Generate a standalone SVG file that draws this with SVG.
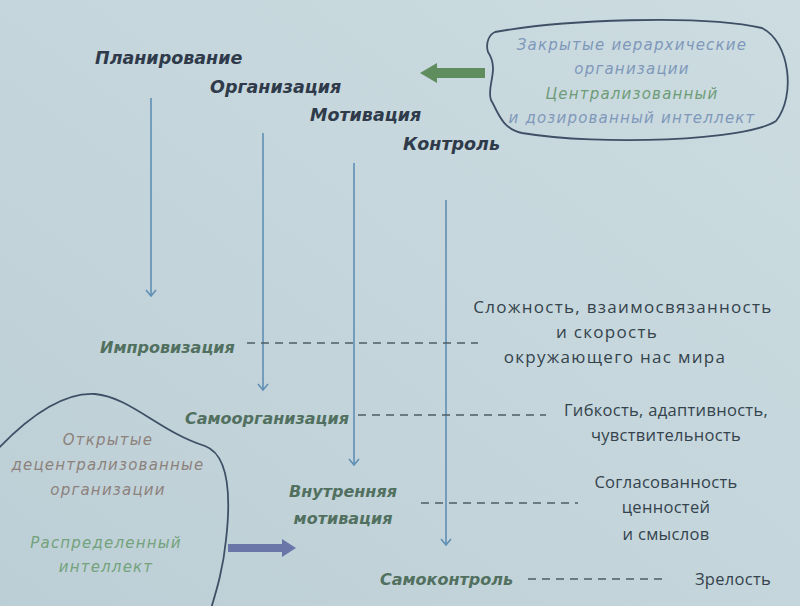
<svg xmlns="http://www.w3.org/2000/svg" width="800" height="606" viewBox="0 0 800 606">
<defs>
<marker id="ah" markerWidth="12" markerHeight="12" refX="10" refY="6" orient="auto" markerUnits="userSpaceOnUse" viewBox="0 0 12 12">
<polyline points="4,1 10,6 4,11" fill="none" stroke="#5f8fb4" stroke-width="1.6"/>
</marker>
<linearGradient id="bg" x1="1" y1="0" x2="0" y2="1">
<stop offset="0" stop-color="#ccdce1"/>
<stop offset="1" stop-color="#bdcfd6"/>
</linearGradient>
</defs>
<style>
.title{font-family:"DejaVu Sans",sans-serif;font-weight:bold;font-style:italic;font-size:17.5px;fill:#2f3a4a}
.lab{font-family:"DejaVu Sans",sans-serif;font-weight:bold;font-style:italic;font-size:16px;fill:#51705f}
.rt{font-family:"Open Sans",sans-serif;font-size:17px;letter-spacing:1.3px;fill:#34434c}
.rt2{font-family:"Open Sans",sans-serif;font-size:16.5px;letter-spacing:0.3px;fill:#34434c}
.ct{font-family:"DejaVu Sans",sans-serif;font-style:italic;font-size:15px;letter-spacing:1.2px}
.vline{stroke:#5f8fb4;stroke-width:1.6;fill:none}
.dash{stroke:#4d5d66;stroke-width:1.4;stroke-dasharray:8,6;fill:none}
.cloud{fill:none;stroke:#3f4f66;stroke-width:1.8}
</style>
<rect width="800" height="606" fill="url(#bg)"/>

<g id="titles">
<text class="title" x="95" y="64">Планирование</text>
<text class="title" x="210" y="93">Организация</text>
<text class="title" x="310" y="121">Мотивация</text>
<text class="title" x="403" y="150">Контроль</text>
</g>

<g id="connectors">
<line class="vline" x1="151" y1="98" x2="151" y2="296" marker-end="url(#ah)"/>
<line class="vline" x1="263" y1="133" x2="263" y2="390" marker-end="url(#ah)"/>
<line class="vline" x1="354" y1="163" x2="354" y2="465" marker-end="url(#ah)"/>
<line class="vline" x1="446" y1="200" x2="446" y2="545" marker-end="url(#ah)"/>
<line class="dash" x1="247" y1="343" x2="478" y2="343"/>
<line class="dash" x1="358" y1="415" x2="546" y2="415"/>
<line class="dash" x1="421" y1="503" x2="578" y2="503"/>
<line class="dash" x1="528" y1="579" x2="666" y2="579"/>
<polygon points="485,68 437,68 437,63 420,73 437,83 437,78 485,78" fill="#5f8d5e"/>
<polygon points="228,544 282,544 282,539 296,548 282,557 282,552 228,552" fill="#6a76a8"/>
</g>

<g id="closed-org">
<path class="cloud" d="M 495,32 C 560,20 700,14 762,28 C 790,42 796,96 776,121 C 746,141 600,146 522,133 C 502,129 498,112 491,100 C 486,86 500,70 488,52 C 485,42 490,34 495,32 Z"/>
<text class="ct" x="632" y="50" text-anchor="middle" fill="#7f98ba">Закрытые иерархические</text>
<text class="ct" x="632" y="74" text-anchor="middle" fill="#7f98ba">организации</text>
<text class="ct" x="632" y="99" text-anchor="middle" fill="#6f9c78">Централизованный</text>
<text class="ct" x="632" y="123" text-anchor="middle" fill="#7f98ba">и дозированный интеллект</text>
</g>

<g id="open-org">
<path class="cloud" d="M -5,452 C 25,420 60,392 95,394 C 130,397 160,432 205,446 C 232,456 230,505 226,540 C 223,570 216,592 210,612"/>
<text class="ct" x="108" y="445" text-anchor="middle" fill="#8d817c">Открытые</text>
<text class="ct" x="108" y="470" text-anchor="middle" fill="#8d817c">децентрализованные</text>
<text class="ct" x="108" y="495" text-anchor="middle" fill="#8d817c">организации</text>
<text class="ct" x="106" y="548" text-anchor="middle" fill="#73a27c">Распределенный</text>
<text class="ct" x="106" y="572" text-anchor="middle" fill="#73a27c">интеллект</text>
</g>

<g id="labels">
<text class="lab" x="100" y="353">Импровизация</text>
<text class="lab" x="185" y="424">Самоорганизация</text>
<text class="lab" x="343" y="497" text-anchor="middle">Внутренняя</text>
<text class="lab" x="343" y="524" text-anchor="middle">мотивация</text>
<text class="lab" x="380" y="585">Самоконтроль</text>
</g>

<g id="right-texts">
<text class="rt" x="623" y="313" text-anchor="middle">Сложность, взаимосвязанность</text>
<text class="rt" x="607" y="338" text-anchor="middle">и скорость</text>
<text class="rt" x="615" y="363" text-anchor="middle">окружающего нас мира</text>
<text class="rt2" x="666" y="416" text-anchor="middle">Гибкость, адаптивность,</text>
<text class="rt2" x="666" y="441" text-anchor="middle">чувствительность</text>
<text class="rt2" x="666" y="488" text-anchor="middle">Согласованность</text>
<text class="rt2" x="666" y="513" text-anchor="middle">ценностей</text>
<text class="rt2" x="666" y="540" text-anchor="middle">и смыслов</text>
<text class="rt2" x="733" y="585" text-anchor="middle">Зрелость</text>
</g>
</svg>
